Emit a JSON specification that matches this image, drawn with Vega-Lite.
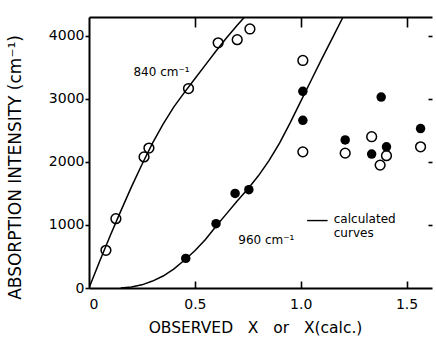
{
  "$schema": "https://vega.github.io/schema/vega-lite/v6.json",
  "width": 343,
  "height": 271,
  "autosize": {"type": "none"},
  "padding": {"left": 89, "top": 17, "right": 4, "bottom": 57},
  "config": {
    "view": {"stroke": null},
    "font": "DejaVu Sans",
    "axis": {"grid": false, "ticks": true, "domainColor": "black", "tickColor": "black", "labelColor": "black", "titleColor": "black", "domainWidth": 2, "tickWidth": 1.6, "labelFont": "DejaVu Sans", "labelFontSize": 14, "titleFont": "DejaVu Sans", "titleFontSize": 15.5, "titleFontWeight": "normal"}
  },
  "datasets": {
    "pts": [
      {"band": "840", "x": 0.08, "y": 598},
      {"band": "840", "x": 0.127, "y": 1100},
      {"band": "840", "x": 0.26, "y": 2080},
      {"band": "840", "x": 0.283, "y": 2220},
      {"band": "840", "x": 0.47, "y": 3165},
      {"band": "840", "x": 0.61, "y": 3890},
      {"band": "840", "x": 0.70, "y": 3940},
      {"band": "840", "x": 0.76, "y": 4110},
      {"band": "840", "x": 1.01, "y": 3610},
      {"band": "840", "x": 1.01, "y": 2160},
      {"band": "840", "x": 1.21, "y": 2140},
      {"band": "840", "x": 1.335, "y": 2400},
      {"band": "840", "x": 1.405, "y": 2100},
      {"band": "840", "x": 1.375, "y": 1950},
      {"band": "840", "x": 1.566, "y": 2240},
      {"band": "960", "x": 0.457, "y": 470},
      {"band": "960", "x": 0.60, "y": 1020},
      {"band": "960", "x": 0.69, "y": 1500},
      {"band": "960", "x": 0.755, "y": 1560},
      {"band": "960", "x": 1.01, "y": 3120},
      {"band": "960", "x": 1.01, "y": 2660},
      {"band": "960", "x": 1.38, "y": 3030},
      {"band": "960", "x": 1.21, "y": 2350},
      {"band": "960", "x": 1.335, "y": 2125},
      {"band": "960", "x": 1.405, "y": 2240},
      {"band": "960", "x": 1.566, "y": 2530}
    ],
    "curves": [
      {"band": "840", "x": 0, "y": 0},
      {"band": "840", "x": 0.05, "y": 420},
      {"band": "840", "x": 0.1, "y": 830},
      {"band": "840", "x": 0.15, "y": 1220},
      {"band": "840", "x": 0.2, "y": 1600},
      {"band": "840", "x": 0.25, "y": 1960},
      {"band": "840", "x": 0.3, "y": 2300},
      {"band": "840", "x": 0.35, "y": 2600},
      {"band": "840", "x": 0.4, "y": 2870},
      {"band": "840", "x": 0.45, "y": 3100},
      {"band": "840", "x": 0.5, "y": 3320},
      {"band": "840", "x": 0.55, "y": 3540},
      {"band": "840", "x": 0.6, "y": 3760},
      {"band": "840", "x": 0.65, "y": 3970},
      {"band": "840", "x": 0.7, "y": 4170},
      {"band": "840", "x": 0.735, "y": 4300},
      {"band": "960", "x": 0.15, "y": 0},
      {"band": "960", "x": 0.2, "y": 15},
      {"band": "960", "x": 0.25, "y": 50},
      {"band": "960", "x": 0.3, "y": 110},
      {"band": "960", "x": 0.35, "y": 190},
      {"band": "960", "x": 0.4, "y": 300},
      {"band": "960", "x": 0.45, "y": 440},
      {"band": "960", "x": 0.5, "y": 590},
      {"band": "960", "x": 0.55, "y": 770},
      {"band": "960", "x": 0.6, "y": 980},
      {"band": "960", "x": 0.65, "y": 1180},
      {"band": "960", "x": 0.7, "y": 1380},
      {"band": "960", "x": 0.75, "y": 1570},
      {"band": "960", "x": 0.8, "y": 1780},
      {"band": "960", "x": 0.85, "y": 2020},
      {"band": "960", "x": 0.9, "y": 2300},
      {"band": "960", "x": 0.95, "y": 2620},
      {"band": "960", "x": 1.0, "y": 2960},
      {"band": "960", "x": 1.05, "y": 3300},
      {"band": "960", "x": 1.1, "y": 3640},
      {"band": "960", "x": 1.15, "y": 3970},
      {"band": "960", "x": 1.2, "y": 4300}
    ],
    "labels": [
      {"x": 0.21, "y": 3420, "text": "840 cm⁻¹"},
      {"x": 0.705, "y": 756, "text": "960 cm⁻¹"},
      {"x": 1.156, "y": 1100, "text": "calculated"},
      {"x": 1.156, "y": 880, "text": "curves"}
    ],
    "legendrule": [
      {"x": 1.03, "x2": 1.127, "y": 1070}
    ]
  },
  "layer": [
    {
      "data": {"name": "curves"},
      "mark": {"type": "line", "color": "black", "strokeWidth": 1.5, "clip": true},
      "encoding": {
        "x": {"field": "x", "type": "quantitative", "scale": {"domain": [0, 1.62], "nice": false, "zero": false},
          "axis": {"orient": "bottom", "values": [0, 0.5, 1.0, 1.5], "labelExpr": "datum.value == 0 ? '0' : format(datum.value, '.1f')", "ticks": false, "labelPadding": 9, "title": "OBSERVED\u00a0\u00a0 X\u00a0\u00a0 or\u00a0\u00a0 X(calc.)", "titleX": 166, "titleY": 39, "titleBaseline": "middle", "titleAlign": "center"}},
        "y": {"field": "y", "type": "quantitative", "scale": {"domain": [0, 4300], "nice": false},
          "axis": {"orient": "left", "values": [0, 1000, 2000, 3000, 4000], "format": "d", "tickSize": 4, "labelPadding": 1, "title": "ABSORPTION INTENSITY (cm⁻¹)", "titleFontSize": 17, "titleX": -74, "titleY": 150, "titleAngle": -90, "titleBaseline": "middle", "titleAlign": "center"}},
        "detail": {"field": "band"}
      }
    },
    {
      "data": {"name": "pts"},
      "transform": [{"filter": "datum.band == '840'"}],
      "mark": {"type": "point", "shape": "circle", "filled": false, "color": "black", "strokeWidth": 1.5, "size": 95, "opacity": 1},
      "encoding": {
        "x": {"field": "x", "type": "quantitative", "axis": {"orient": "top", "values": [0.5, 1.0, 1.5], "labels": false, "ticks": false, "title": null}},
        "y": {"field": "y", "type": "quantitative", "axis": {"orient": "right", "values": [1000, 2000, 3000, 4000], "labels": false, "domain": false, "ticks": true, "tickSize": 4, "offset": -4, "title": null}}
      }
    },
    {
      "data": {"name": "pts"},
      "transform": [{"filter": "datum.band == '960'"}],
      "mark": {"type": "point", "shape": "circle", "filled": true, "color": "black", "size": 90, "opacity": 1},
      "encoding": {
        "x": {"field": "x", "type": "quantitative", "axis": {"orient": "bottom", "values": [0.5, 1.0, 1.5], "labels": false, "domain": false, "ticks": true, "tickSize": 7, "offset": -7, "title": null}},
        "y": {"field": "y", "type": "quantitative", "axis": null}
      }
    },
    {
      "data": {"name": "labels"},
      "mark": {"type": "text", "align": "left", "baseline": "middle", "fontSize": 12, "color": "black"},
      "encoding": {
        "x": {"field": "x", "type": "quantitative", "axis": {"orient": "top", "values": [0.5, 1.0, 1.5], "labels": false, "domain": false, "ticks": true, "tickSize": 10, "offset": -10, "title": null}},
        "y": {"field": "y", "type": "quantitative", "axis": null},
        "text": {"field": "text"}
      }
    },
    {
      "data": {"name": "legendrule"},
      "mark": {"type": "rule", "color": "black", "strokeWidth": 1.4},
      "encoding": {
        "x": {"field": "x", "type": "quantitative", "axis": null},
        "x2": {"field": "x2"},
        "y": {"field": "y", "type": "quantitative", "axis": null}
      }
    }
  ]
}
